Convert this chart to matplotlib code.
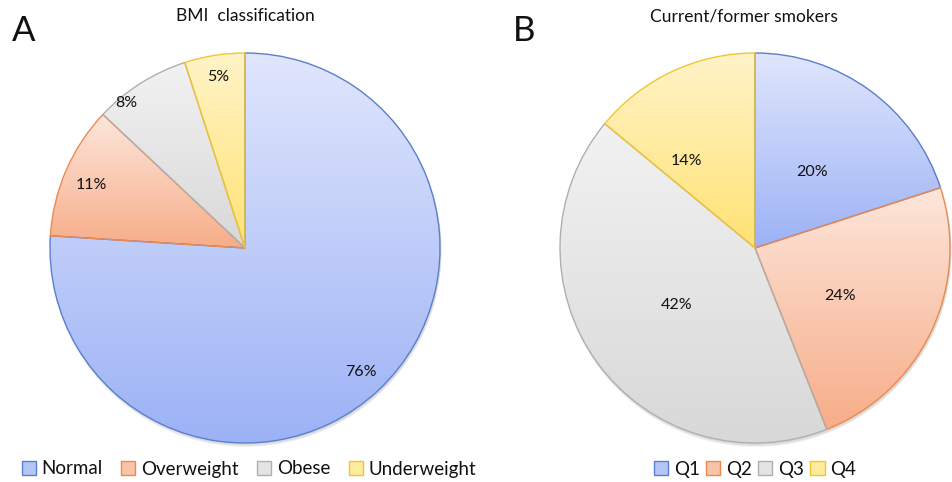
import numpy as np
import matplotlib
matplotlib.use("Agg")
import matplotlib.pyplot as plt
from matplotlib.colors import LinearSegmentedColormap
from matplotlib.patches import Patch

plt.rcParams['font.family'] = ['Lato', 'DejaVu Sans']

# ---- data ----
bmi_labels = ["Normal", "Overweight", "Obese", "Underweight"]
bmi_values = [76, 11, 8, 5]
smk_labels = ["Q1", "Q2", "Q3", "Q4"]
smk_values = [20, 24, 42, 14]

# ---- styles ----
grad_top = ["#e0e6fc", "#fde6dc", "#f2f2f2", "#fff4c8"]
grad_bot = ["#9cb2f6", "#f7ad88", "#d8d8d8", "#ffe273"]
edges = ["#5b7fcf", "#ee8a4e", "#b0b0b0", "#f2c530"]
legend_face = ["#b4c6f8", "#f9c3a8", "#e4e4e4", "#ffeb9c"]

W, H = 952, 482
fig = plt.figure(figsize=(W / 100, H / 100), dpi=100)
ax = fig.add_axes([0, 0, 1, 1])

R = 195
centers = [(245, H - 248), (755, H - 248)]


def draw_pie(center, values, pct_r, pct_dang):
    # subtle drop shadow
    for k, a in enumerate([0.05, 0.05, 0.05]):
        sh = plt.Circle((center[0] + 1, center[1] - 1.5 - k), R + 0.5, color="k",
                        alpha=a, lw=0, zorder=0.5)
        ax.add_patch(sh)
    wedges, _ = ax.pie(values, radius=R, center=center, startangle=90,
                       counterclock=False, frame=True,
                       wedgeprops=dict(linewidth=1.0, zorder=2))
    grad = np.linspace(0, 1, 256).reshape(-1, 1)
    for i, w in enumerate(wedges):
        w.set_facecolor("none")
        w.set_edgecolor(edges[i])
        ext = w.get_path().get_extents()
        cmap = LinearSegmentedColormap.from_list("g", [grad_bot[i], grad_top[i]])
        im = ax.imshow(grad, extent=[ext.x0, ext.x1, ext.y0, ext.y1],
                       origin="lower", cmap=cmap, aspect="auto",
                       interpolation="bilinear", zorder=1)
        im.set_clip_path(w)
        mid = np.deg2rad((w.theta1 + w.theta2) / 2 + pct_dang[i])
        r = pct_r[i] * R
        ax.text(center[0] + r * np.cos(mid), center[1] + r * np.sin(mid),
                f"{values[i]}%", ha="center", va="center", fontsize=11.5,
                color="#111111", zorder=3)


draw_pie(centers[0], bmi_values, [0.87, 0.85, 0.96, 0.89], [0, 1, 7, 0])
draw_pie(centers[1], smk_values, [0.49, 0.50, 0.50, 0.57], [-1, -4, 0, 13])

ax.set_xlim(0, W)
ax.set_ylim(0, H)
ax.set_aspect("equal")
ax.axis("off")

# titles and panel letters
fig.text(245 / W, 1 - 16 / H, "BMI  classification", ha="center", va="center",
         fontsize=12.5, color="#111111")
fig.text(744 / W, 1 - 16 / H, "Current/former smokers", ha="center", va="center",
         fontsize=12.5, color="#111111")
fig.text(12 / W, 1 - 31 / H, "A", ha="left", va="center", fontsize=25, color="#111111")
fig.text(513 / W, 1 - 31 / H, "B", ha="left", va="center", fontsize=25, color="#111111")


def make_legend(labels, xc, colsp):
    handles = [Patch(facecolor=legend_face[i], edgecolor=edges[i], linewidth=1.0)
               for i in range(len(labels))]
    leg = fig.legend(handles, labels, loc="center", bbox_to_anchor=(xc / W, 1 - 469 / H),
                     ncol=4, frameon=False, fontsize=13.5, handlelength=0.75,
                     handleheight=0.75, handletextpad=0.3, columnspacing=colsp,
                     borderaxespad=0)
    for t in leg.get_texts():
        t.set_color("#111111")
    return leg


make_legend(bmi_labels, 249, 1.0)
make_legend(smk_labels, 755, 0.35)

fig.savefig("out.png", dpi=100)
